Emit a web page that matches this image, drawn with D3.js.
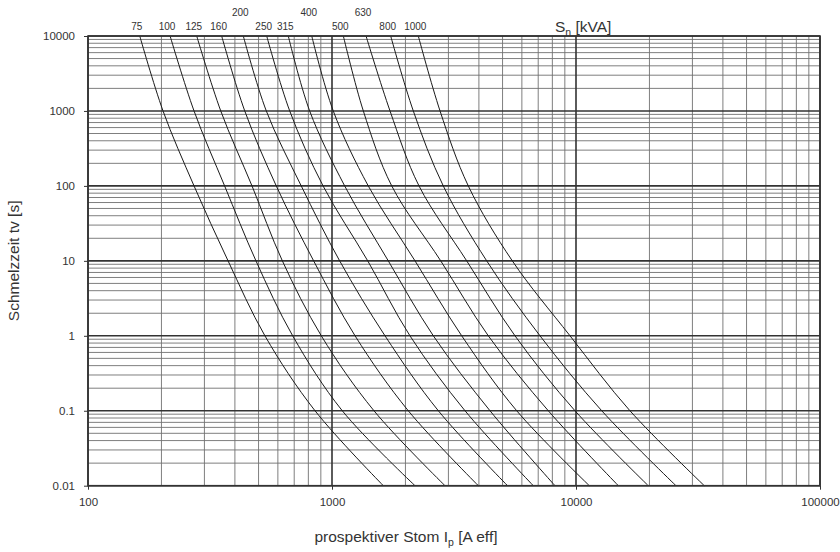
<!DOCTYPE html>
<html>
<head>
<meta charset="utf-8">
<script src="https://cdn.jsdelivr.net/npm/d3@7"></script>
<style>
  body { margin: 0; background: #fff; }
  text { font-family: "Liberation Sans", Arial, sans-serif; fill: #333; }
</style>
</head>
<body>
<div id="chart"></div>
<script>
const times = [10000, 1000, 100, 10, 1, 0.1, 0.01];

// Transformer ratings S_n [kVA]
const ratings = [75, 100, 125, 160, 200, 250, 315, 400, 500, 630, 800, 1000];
const raisedLabels = [200, 400, 630];

// prospective current [A] for each rating, one value per entry in times
const ip75   = [163, 203, 272, 375, 531, 852, 1623];
const ip100  = [217, 272, 363, 488, 690, 1102, 2189];
const ip125  = [279, 350, 470, 626, 904, 1486, 2905];
const ip160  = [353, 439, 591, 841, 1243, 2054, 3978];
const ip200  = [433, 538, 748, 1075, 1649, 2728, 5241];
const ip250  = [540, 671, 919, 1401, 2087, 3509, 6683];
const ip315  = [662, 810, 1127, 1701, 2602, 4442, 8201];
const ip400  = [826, 1012, 1408, 2189, 3401, 5715, 11340];
const ip500  = [1113, 1344, 1757, 2790, 4371, 7700, 14910];
const ip630  = [1379, 1729, 2273, 3565, 5623, 9906, 19780];
const ip800  = [1740, 2154, 2858, 4305, 7120, 12750, 25690];
const ip1000 = [2258, 2772, 3619, 5482, 9451, 16640, 33560];

const currents = [ip75, ip100, ip125, ip160, ip200, ip250, ip315, ip400, ip500, ip630, ip800, ip1000];

// axis tick labels
const xTicks = [100, 1000, 10000, 100000];
const yTicks = [0.01, 0.1, 1, 10, 100, 1000, 10000];

const width = 840;
const height = 552;
const margin = { top: 36, right: 20, bottom: 66.3, left: 88 };
const innerWidth = width - margin.left - margin.right;
const innerHeight = height - margin.top - margin.bottom;

const svg = d3.select("#chart")
    .append("svg")
    .attr("width", width)
    .attr("height", height);

const innerChart = svg.append("g")
    .attr("transform", `translate(${margin.left},${margin.top})`);

const xScale = d3.scaleLog().domain([100, 100000]).range([0, innerWidth]);
const yScale = d3.scaleLog().domain([0.01, 10000]).range([innerHeight, 0]);

const isDecade = v => Math.abs(Math.log10(v) - Math.round(Math.log10(v))) < 1e-9;

/*************/
/* Gridlines */
/*************/
const xGrid = xScale.ticks();
const yGrid = yScale.ticks();

innerChart.append("g")
    .selectAll("line")
    .data(xGrid.filter(v => !isDecade(v)))
    .join("line")
        .attr("x1", d => xScale(d))
        .attr("x2", d => xScale(d))
        .attr("y1", 0)
        .attr("y2", innerHeight)
        .attr("stroke", "#707070")
        .attr("stroke-width", 0.9);

innerChart.append("g")
    .selectAll("line")
    .data(yGrid.filter(v => !isDecade(v)))
    .join("line")
        .attr("x1", 0)
        .attr("x2", innerWidth)
        .attr("y1", d => yScale(d))
        .attr("y2", d => yScale(d))
        .attr("stroke", "#707070")
        .attr("stroke-width", 0.9);

// heavier decade lines
innerChart.append("g")
    .selectAll("line")
    .data(xTicks)
    .join("line")
        .attr("x1", d => xScale(d))
        .attr("x2", d => xScale(d))
        .attr("y1", 0)
        .attr("y2", innerHeight)
        .attr("stroke", "#333")
        .attr("stroke-width", 1.6);

innerChart.append("g")
    .selectAll("line")
    .data(yTicks)
    .join("line")
        .attr("x1", 0)
        .attr("x2", innerWidth)
        .attr("y1", d => yScale(d))
        .attr("y2", d => yScale(d))
        .attr("stroke", "#333")
        .attr("stroke-width", 1.6);

/**********/
/* Curves */
/**********/
const line = d3.line()
    .x(d => xScale(d[0]))
    .y(d => yScale(d[1]))
    .curve(d3.curveCatmullRom.alpha(0.5));

innerChart.append("g")
    .selectAll("path")
    .data(currents.map(c => c.map((v, i) => [v, times[i]])))
    .join("path")
        .attr("d", line)
        .attr("fill", "none")
        .attr("stroke", "#1a1a1a")
        .attr("stroke-width", 1);

// frame
innerChart.append("rect")
    .attr("width", innerWidth)
    .attr("height", innerHeight)
    .attr("fill", "none")
    .attr("stroke", "#333")
    .attr("stroke-width", 1.6);

/********/
/* Axes */
/********/
const xAxisGroup = innerChart.append("g")
    .attr("transform", `translate(0,${innerHeight})`)
    .call(d3.axisBottom(xScale).tickValues(xTicks).tickSize(4).tickPadding(8).tickFormat(d3.format("d")));
xAxisGroup.select(".domain").remove();
xAxisGroup.selectAll(".tick line").attr("stroke", "#333");
xAxisGroup.selectAll("text")
    .style("font-size", "11.5px")
    .attr("fill", "#333");

const yAxisGroup = innerChart.append("g")
    .call(d3.axisLeft(yScale).tickValues(yTicks).tickSize(4).tickPadding(9).tickFormat(d => String(d)));
yAxisGroup.select(".domain").remove();
yAxisGroup.selectAll(".tick line").attr("stroke", "#333");
yAxisGroup.selectAll("text")
    .style("font-size", "11.5px")
    .attr("fill", "#333");

/**********/
/* Labels */
/**********/
// rating labels over the top of each curve
innerChart.append("g")
    .selectAll("text")
    .data(ratings)
    .join("text")
        .attr("text-anchor", "middle")
        .attr("x", (d, i) => xScale(currents[i][0]) - 3)
        .attr("y", d => raisedLabels.includes(d) ? -20 : -6.5)
        .style("font-size", "10px")
        .text(d => d);

const snLabel = svg.append("text")
    .attr("x", 555)
    .attr("y", 32)
    .style("font-size", "15.5px");
snLabel.append("tspan").text("S");
snLabel.append("tspan").attr("dy", 4).style("font-size", "10.5px").text("n");
snLabel.append("tspan").attr("dy", -4).text(" [kVA]");

const xLabel = svg.append("text")
    .attr("text-anchor", "middle")
    .attr("x", 406)
    .attr("y", 542)
    .style("font-size", "15.5px");
xLabel.append("tspan").text("prospektiver Stom I");
xLabel.append("tspan").attr("dy", 4).style("font-size", "10.5px").text("p");
xLabel.append("tspan").attr("dy", -4).text(" [A eff]");

svg.append("text")
    .attr("text-anchor", "middle")
    .attr("transform", "rotate(-90)")
    .attr("x", -(margin.top + innerHeight / 2))
    .attr("y", 19)
    .style("font-size", "15.5px")
    .text("Schmelzzeit tv [s]");
</script>
</body>
</html>
